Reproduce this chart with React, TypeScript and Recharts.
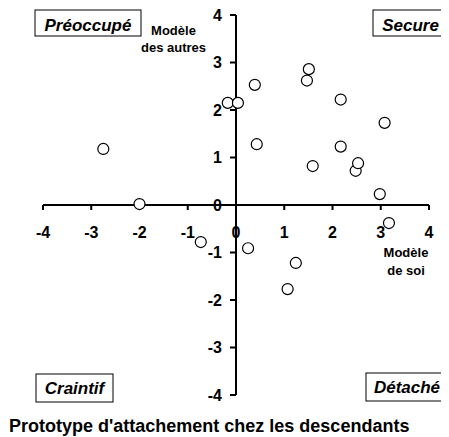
import React from "react";
import { ScatterChart, Scatter, XAxis, YAxis, ReferenceLine, ReferenceDot } from "recharts";

const selfModel = [-2.75, -2.0, -0.73, -0.17, 0.04, 0.39, 0.43, 0.25, 1.07, 1.24, 1.47, 1.51, 1.59, 2.17, 2.17, 2.48, 2.53, 3.08, 2.98, 3.17];
const otherModel = [1.18, 0.02, -0.78, 2.15, 2.15, 2.53, 1.28, -0.91, -1.77, -1.22, 2.62, 2.86, 0.82, 2.22, 1.23, 0.72, 0.88, 1.73, 0.23, -0.38];
const xTicks = [-4, -3, -2, -1, 0, 1, 2, 3, 4];
const yTicks = [-4, -3, -2, -1, 0, 1, 2, 3, 4];
const quadrantLabels = ["Préoccupé", "Secure", "Craintif", "Détaché"];
const yAxisTitle = ["Modèle", "des autres"];
const xAxisTitle = ["Modèle", "de soi"];
const chartTitle = "Prototype d'attachement chez les descendants";

const points = selfModel.map((x, i) => ({ x, y: otherModel[i] }));

const FONT = "'Liberation Sans', Arial, sans-serif";
const W = 441;
const H = 429;

const makeXTick = (label: number) => (p: any) => (
  <g>
    <line x1={p.cx} y1={p.cy} x2={p.cx} y2={p.cy + 5} stroke="#000" strokeWidth={2} />
    <text x={p.cx} y={p.cy + 33} textAnchor="middle" fontFamily={FONT} fontWeight="bold" fontSize={16} fill="#000">
      {label}
    </text>
  </g>
);

const makeYTick = (label: number) => (p: any) => (
  <g>
    <line x1={p.cx} y1={p.cy} x2={p.cx - 6} y2={p.cy} stroke="#000" strokeWidth={2} />
    <text x={p.cx - 14} y={p.cy + 5.5} textAnchor="end" fontFamily={FONT} fontWeight="bold" fontSize={16} fill="#000">
      {label}
    </text>
  </g>
);

const Circle = (p: any) => (
  <circle cx={p.cx} cy={p.cy} r={5.5} fill="#fff" stroke="#000" strokeWidth={1.2} />
);

const Box = ({ x, y, w, h, text, tx, ty }: any) => (
  <g>
    <rect x={x} y={y} width={w} height={h} fill="#fff" stroke="#000" strokeWidth={1} />
    <text x={tx} y={ty} textAnchor="middle" fontFamily={FONT} fontWeight="bold" fontStyle="italic" fontSize={17} fill="#000">
      {text}
    </text>
  </g>
);

export default function App() {
  return (
    <div style={{ position: "relative", width: W, height: H }}>
      <ScatterChart width={W} height={H} margin={{ top: 7, right: 20, bottom: 42, left: 35 }}>
        <XAxis type="number" dataKey="x" domain={[-4, 4]} ticks={xTicks} hide />
        <YAxis type="number" dataKey="y" domain={[-4, 4]} ticks={yTicks} hide />
        <ReferenceLine y={0} stroke="#000" strokeWidth={2} />
        <ReferenceLine x={0} stroke="#000" strokeWidth={2} />
        {xTicks.map((t) => (
          <ReferenceDot key={"x" + t} x={t} y={0} r={0} ifOverflow="visible" shape={makeXTick(t)} />
        ))}
        {yTicks.map((t) => (
          <ReferenceDot key={"y" + t} x={0} y={t} r={0} ifOverflow="visible" shape={makeYTick(t)} />
        ))}
        <Scatter data={points} shape={Circle} isAnimationActive={false} />
      </ScatterChart>
      <svg width={W} height={H} style={{ position: "absolute", left: 0, top: 0, pointerEvents: "none" }}>
        <Box x={27} y={2} w={106} h={26} text={quadrantLabels[0]} tx={80} ty={23} />
        <Box x={365} y={2} w={75} h={26} text={quadrantLabels[1]} tx={402.5} ty={23} />
        <Box x={28} y={366} w={77} h={28} text={quadrantLabels[2]} tx={66.5} ty={386} />
        <Box x={358} y={365} w={82} h={28} text={quadrantLabels[3]} tx={399} ty={385} />
        <text textAnchor="middle" fontFamily={FONT} fontWeight="bold" fontSize={13} fill="#000">
          <tspan x={165.5} y={27}>{yAxisTitle[0]}</tspan>
          <tspan x={165.5} y={44}>{yAxisTitle[1]}</tspan>
        </text>
        <text textAnchor="middle" fontFamily={FONT} fontWeight="bold" fontSize={13} fill="#000">
          <tspan x={398} y={249}>{xAxisTitle[0]}</tspan>
          <tspan x={398} y={267}>{xAxisTitle[1]}</tspan>
        </text>
        <text x={1} y={424} fontFamily={FONT} fontWeight="bold" fontSize={18} fill="#000">
          {chartTitle}
        </text>
      </svg>
    </div>
  );
}
